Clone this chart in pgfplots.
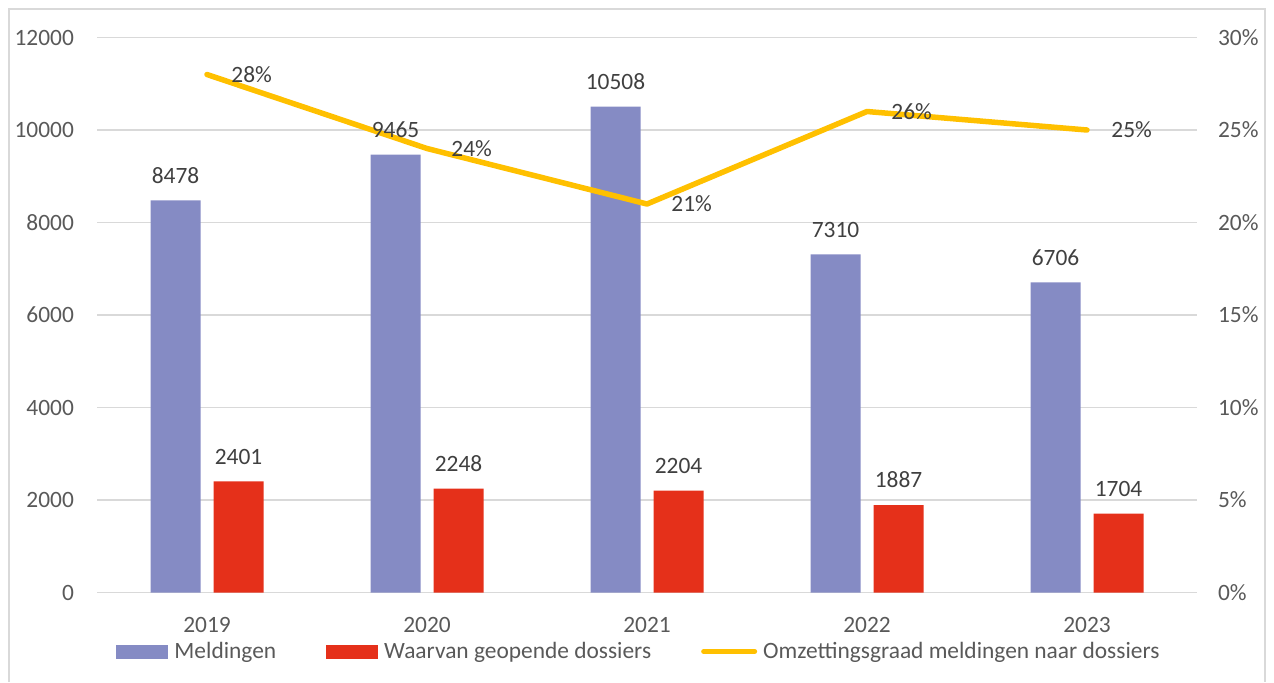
\documentclass[border=0pt]{standalone}
\usepackage{pgfplots}
\pgfplotsset{compat=1.18}
\usepackage{pgfplotstable}
\usepackage{fontspec}
\setmainfont{Carlito}
\definecolor{cblue}{HTML}{858BC4}
\definecolor{cred}{HTML}{E5301A}
\definecolor{cyel}{HTML}{FFC000}
\definecolor{cgrid}{HTML}{D9D9D9}
\definecolor{ctick}{HTML}{595959}
\definecolor{clab}{HTML}{404040}

\pgfplotstableread{
x meld dos pct
0 8478 2401 28
1 9465 2248 24
2 10508 2204 21
3 7310 1887 26
4 6706 1704 25
}\data

\newcommand{\labfont}{\fontsize{11.7}{14}\selectfont}

\pgfplotsset{
 base/.style={
  scale only axis, width=550pt, height=277.5pt,
  at={(48.5pt,44.75pt)}, anchor=south west,
  xmin=-0.5, xmax=4.5,
  xtick={0,...,4},
  major tick length=0pt,
  axis line style={draw=none},
  tick label style={font=\labfont, text=ctick},
  scaled y ticks=false,
  /pgf/number format/1000 sep={},
  /pgf/number format/assume math mode=true,
  clip=false,
 },
 barax/.style={base, ybar=6.5pt, bar width=25pt, ymin=0, ymax=12000,
  ytick={0,2000,...,12000}},
}

\begin{document}
\begin{tikzpicture}
\path[use as bounding box] (0,0) rectangle (637pt,341pt);
\draw[cgrid, line width=0.6pt] (4.5pt,0pt) -- (4.5pt,336.5pt) -- (632.5pt,336.5pt) -- (632.5pt,0pt);

% bars
\begin{axis}[barax,
  ymajorgrids, grid style={cgrid, line width=0.6pt},
  xticklabels={2019,2020,2021,2022,2023},
  xticklabel style={yshift=-9pt},
  yticklabel style={xshift=-8pt},
  legend columns=3,
  legend style={draw=none, fill=none, at={(0.5,0)}, anchor=center,
    xshift=-3pt, yshift=-29.5pt, font=\labfont, text=ctick,
    /tikz/every even column/.append style={column sep=22pt},
    nodes={inner xsep=3pt, inner ysep=1.5pt}},
]
\addplot[fill=cblue, draw=none,
  legend image code/.code={\fill[cblue] (0pt,-3.5pt) rectangle (26pt,3.5pt);}]
  table[x=x, y=meld] {\data};
\addlegendentry{Meldingen}
\addplot[fill=cred, draw=none,
  legend image code/.code={\fill[cred] (0pt,-3.5pt) rectangle (26pt,3.5pt);}]
  table[x=x, y=dos] {\data};
\addlegendentry{Waarvan geopende dossiers}
\addlegendimage{cyel, line width=2.5pt, line cap=round,
  legend image code/.code={\draw[cyel, line width=2.5pt, line cap=round] (1.5pt,0pt) -- (27pt,0pt);}}
\addlegendentry{Omzettingsgraad meldingen naar dossiers}
\end{axis}

% line
\begin{axis}[base,
  ymin=0, ymax=30, ytick={0,5,...,30},
  yticklabel pos=right,
  yticklabel={\pgfmathprintnumber{\tick}\%},
  yticklabel style={xshift=7pt},
  xticklabels={},
  nodes near coords={\pgfmathprintnumber{\pgfplotspointmeta}\%},
  every node near coord/.append style={anchor=west, xshift=7.5pt, font=\labfont, text=clab},
]
\addplot[cyel, line width=2.75pt, line join=round, line cap=round, mark=none]
  table[x=x, y=pct] {\data};
\end{axis}

% bar labels on top
\begin{axis}[barax, hide axis,
  nodes near coords,
  every node near coord/.append style={yshift=5pt, font=\labfont, text=clab},
]
\addplot[fill=none, draw=none] table[x=x, y=meld] {\data};
\addplot[fill=none, draw=none] table[x=x, y=dos] {\data};
\end{axis}
\end{tikzpicture}
\end{document}
